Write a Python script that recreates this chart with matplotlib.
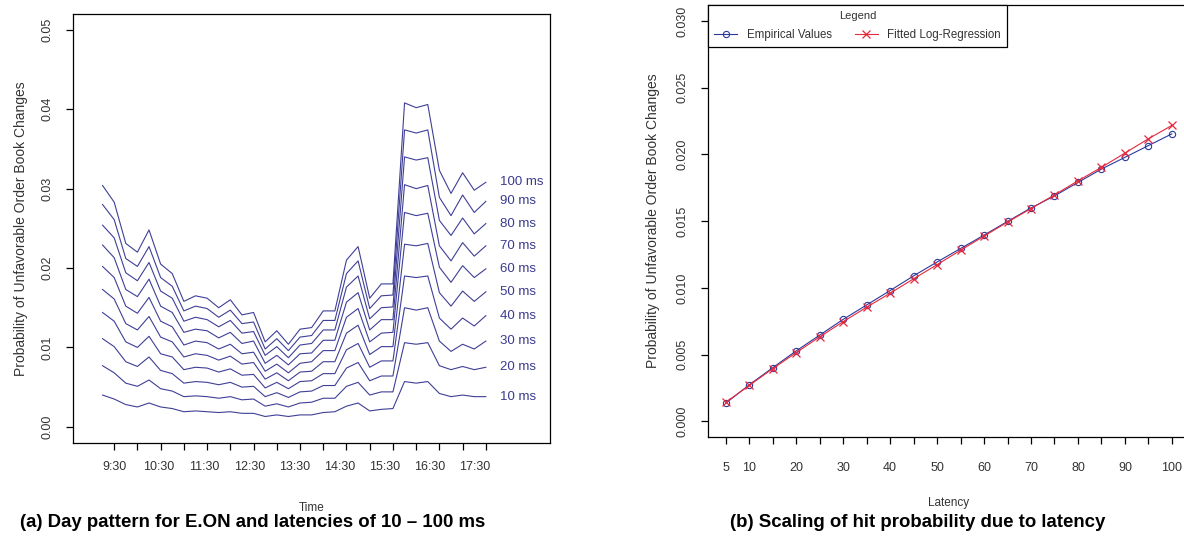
import numpy as np
import matplotlib
matplotlib.use("Agg")
import matplotlib.pyplot as plt

plt.rcParams['font.family'] = ['Liberation Sans', 'DejaVu Sans']

# ---- panel (a): day pattern, values in 1/1000, one row per latency ----
latency_labels = ["100 ms", "90 ms", "80 ms", "70 ms", "60 ms",
                  "50 ms", "40 ms", "30 ms", "20 ms", "10 ms"]
time_labels = ["9:30", "10:30", "11:30", "12:30", "13:30",
               "14:30", "15:30", "16:30", "17:30"]

p100 = [30.4, 28.3, 23.1, 22.0, 24.8, 20.5, 19.3, 15.8, 16.5, 16.2, 15.0, 16.0, 14.1, 14.4, 10.7, 12.1, 10.4,
        12.3, 12.5, 14.6, 14.6, 21.0, 22.7, 16.2, 18.0, 18.0, 40.8, 40.2, 40.6, 32.3, 29.4, 32.0, 29.8, 30.8]
p90 = [28.0, 26.1, 21.2, 20.2, 22.7, 18.8, 17.7, 14.6, 15.2, 14.9, 13.8, 14.7, 13.0, 13.2, 9.8, 11.1, 9.6,
       11.3, 11.5, 13.4, 13.4, 19.3, 20.9, 14.9, 16.5, 16.6, 37.4, 37.0, 37.4, 28.9, 26.6, 29.2, 27.0, 28.4]
p80 = [25.4, 23.8, 19.4, 18.4, 20.7, 17.1, 16.2, 13.3, 13.8, 13.5, 12.6, 13.4, 11.8, 12.0, 9.0, 10.1, 8.7,
       10.3, 10.5, 12.2, 12.2, 17.6, 19.0, 13.6, 15.0, 15.1, 34.0, 33.6, 33.9, 26.0, 24.1, 26.3, 24.3, 25.6]
p70 = [22.9, 21.3, 17.3, 16.4, 18.6, 15.2, 14.4, 11.9, 12.3, 12.1, 11.2, 11.9, 10.5, 10.8, 8.0, 9.0, 7.8,
       9.2, 9.3, 10.9, 10.9, 15.7, 16.9, 12.2, 13.5, 13.5, 30.5, 30.0, 30.4, 22.8, 20.9, 23.2, 21.5, 22.8]
p60 = [20.2, 18.8, 15.2, 14.3, 16.3, 13.3, 12.6, 10.3, 10.8, 10.6, 9.8, 10.4, 9.2, 9.4, 7.0, 7.9, 6.8,
       8.0, 8.2, 9.6, 9.6, 13.8, 14.9, 10.7, 11.8, 11.9, 27.0, 26.6, 26.9, 20.1, 18.2, 20.3, 18.8, 19.9]
p50 = [17.3, 16.1, 13.0, 12.2, 13.9, 11.3, 10.7, 8.8, 9.2, 9.0, 8.4, 8.9, 7.9, 8.1, 6.0, 6.8, 5.8,
       6.9, 7.0, 8.2, 8.2, 11.8, 12.8, 9.1, 10.1, 10.1, 23.0, 22.8, 23.1, 16.9, 15.2, 17.1, 15.8, 17.0]
p40 = [14.4, 13.3, 10.7, 10.0, 11.4, 9.2, 8.8, 7.2, 7.5, 7.4, 6.9, 7.3, 6.5, 6.6, 4.9, 5.6, 4.8,
       5.7, 5.8, 6.7, 6.7, 9.7, 10.5, 7.5, 8.3, 8.3, 19.0, 18.8, 19.0, 13.7, 12.3, 13.7, 12.7, 14.0]
p30 = [11.1, 10.1, 8.2, 7.6, 8.8, 7.1, 6.7, 5.5, 5.7, 5.6, 5.3, 5.6, 5.0, 5.1, 3.8, 4.3, 3.7,
       4.4, 4.5, 5.2, 5.2, 7.4, 8.1, 5.8, 6.4, 6.4, 15.0, 14.7, 15.0, 10.8, 9.5, 10.4, 9.8, 10.8]
p20 = [7.7, 6.8, 5.5, 5.1, 5.9, 4.8, 4.5, 3.8, 3.9, 3.8, 3.6, 3.8, 3.4, 3.5, 2.6, 2.9, 2.5,
       3.0, 3.1, 3.6, 3.6, 5.1, 5.6, 4.0, 4.4, 4.4, 10.6, 10.4, 10.6, 7.7, 7.2, 7.6, 7.2, 7.5]
p10 = [4.0, 3.5, 2.8, 2.5, 3.0, 2.5, 2.3, 1.9, 2.0, 1.9, 1.8, 1.9, 1.7, 1.7, 1.3, 1.5, 1.3,
       1.5, 1.5, 1.8, 1.9, 2.6, 3.0, 2.0, 2.2, 2.3, 5.7, 5.5, 5.7, 4.2, 3.8, 4.0, 3.8, 3.8]
day_series = [p100, p90, p80, p70, p60, p50, p40, p30, p20, p10]

# ---- panel (b): scaling with latency, values in 1/1000 ----
latency = [5, 10, 15, 20, 25, 30, 35, 40, 45, 50, 55, 60, 65, 70, 75, 80, 85, 90, 95, 100]
empirical = [1.36, 2.74, 4.02, 5.28, 6.46, 7.64, 8.72, 9.80, 10.9, 11.94,
             12.95, 13.95, 14.98, 15.99, 16.89, 17.9, 18.9, 19.78, 20.66, 21.54]
fitted = [1.43, 2.69, 3.95, 5.15, 6.33, 7.47, 8.55, 9.6, 10.68, 11.74,
          12.82, 13.88, 14.93, 15.94, 16.97, 18.02, 19.03, 20.1, 21.17, 22.17]

fig = plt.figure(figsize=(11.84, 5.4), dpi=100)
fig.patch.set_facecolor('white')

tick_col = '#333333'
line_col = '#2a2a8c'

# ---------------- left panel ----------------
ax1 = fig.add_axes([0.0619, 0.1802, 0.4026, 0.7939])
idx = np.arange(len(p100))
for vals, lab in zip(day_series, latency_labels):
    v = np.array(vals) / 1000.0
    ax1.plot(idx, v, color=line_col, lw=0.8, alpha=0.9)
    ax1.text(34.2, v[-1], lab, color='#3a3a90', fontsize=9.5, va='center', ha='left')

ax1.set_xlim(-2.52, 38.52)
ax1.set_ylim(-0.002, 0.052)
ax1.set_yticks([0.0, 0.01, 0.02, 0.03, 0.04, 0.05])
ax1.set_yticklabels(["0.00", "0.01", "0.02", "0.03", "0.04", "0.05"],
                    rotation=90, va='center', fontsize=9, color=tick_col)
ax1.set_xticks(np.arange(1, 34, 2))
ax1.set_xticklabels([])
# label positions do not sit on every tick; offset the first so it is not dropped
label_pos = np.linspace(1, 32, 9)
label_pos[0] += 0.001
ax1.set_xticks(label_pos, minor=True)
ax1.set_xticklabels(time_labels, minor=True, fontsize=9, color=tick_col)
ax1.tick_params(axis='x', which='minor', length=0, pad=13)
ax1.tick_params(axis='both', which='major', length=5, width=0.9, direction='out', pad=9)
ax1.set_xlabel("Time", fontsize=8.5, color=tick_col, labelpad=21)
ax1.set_ylabel("Probability of Unfavorable Order Book Changes", fontsize=10, color=tick_col, labelpad=10)
for s in ax1.spines.values():
    s.set_linewidth(0.9)

# ---------------- right panel ----------------
ax2 = fig.add_axes([0.598, 0.1902, 0.4068, 0.8006])
lat = np.array(latency)
ax2.plot(lat, np.array(empirical) / 1000.0, color='#2a3a9a', lw=0.8, marker='o',
         markersize=4.5, markerfacecolor='none', markeredgewidth=0.8, label='Empirical Values')
ax2.plot(lat, np.array(fitted) / 1000.0, color='#e8283c', lw=0.8, marker='x',
         markersize=5.5, markeredgewidth=0.9, label='Fitted Log-Regression')
ax2.set_xlim(1.2, 103.8)
ax2.set_ylim(-0.0012, 0.0312)
ax2.set_xticks(lat)
ax2.set_xticklabels([str(x) if (x == 5 or x % 10 == 0) else "" for x in latency],
                    fontsize=9, color=tick_col)
ax2.set_yticks([0.0, 0.005, 0.01, 0.015, 0.02, 0.025, 0.03])
ax2.set_yticklabels(["0.000", "0.005", "0.010", "0.015", "0.020", "0.025", "0.030"],
                    rotation=90, va='center', fontsize=9, color=tick_col)
ax2.tick_params(axis='both', length=5, width=0.9, direction='out', pad=9)
ax2.tick_params(axis='x', pad=13)
ax2.set_xlabel("Latency", fontsize=8.5, color=tick_col, labelpad=16)
ax2.set_ylabel("Probability of Unfavorable Order Book Changes", fontsize=10, color=tick_col, labelpad=12)
for s in ax2.spines.values():
    s.set_linewidth(0.9)

leg = ax2.legend(loc='upper left', bbox_to_anchor=(0, 1), borderaxespad=0, ncol=2,
                 title='Legend', fontsize=8.3, title_fontsize=8, frameon=True,
                 fancybox=False, edgecolor='black', framealpha=1,
                 handlelength=2.0, columnspacing=2.0, borderpad=0.55, labelspacing=0.65)
leg.get_frame().set_linewidth(0.9)
for t in leg.get_texts():
    t.set_color(tick_col)
leg.get_title().set_color(tick_col)

# ---------------- captions ----------------
fig.text(0.0169, 0.033, "(a) Day pattern for E.ON and latencies of 10 \u2013 100 ms",
         fontsize=13.4, fontweight='bold', ha='left', va='center')
fig.text(0.6166, 0.033, "(b) Scaling of hit probability due to latency",
         fontsize=13.4, fontweight='bold', ha='left', va='center')

fig.savefig("out.png", dpi=100, facecolor='white')
